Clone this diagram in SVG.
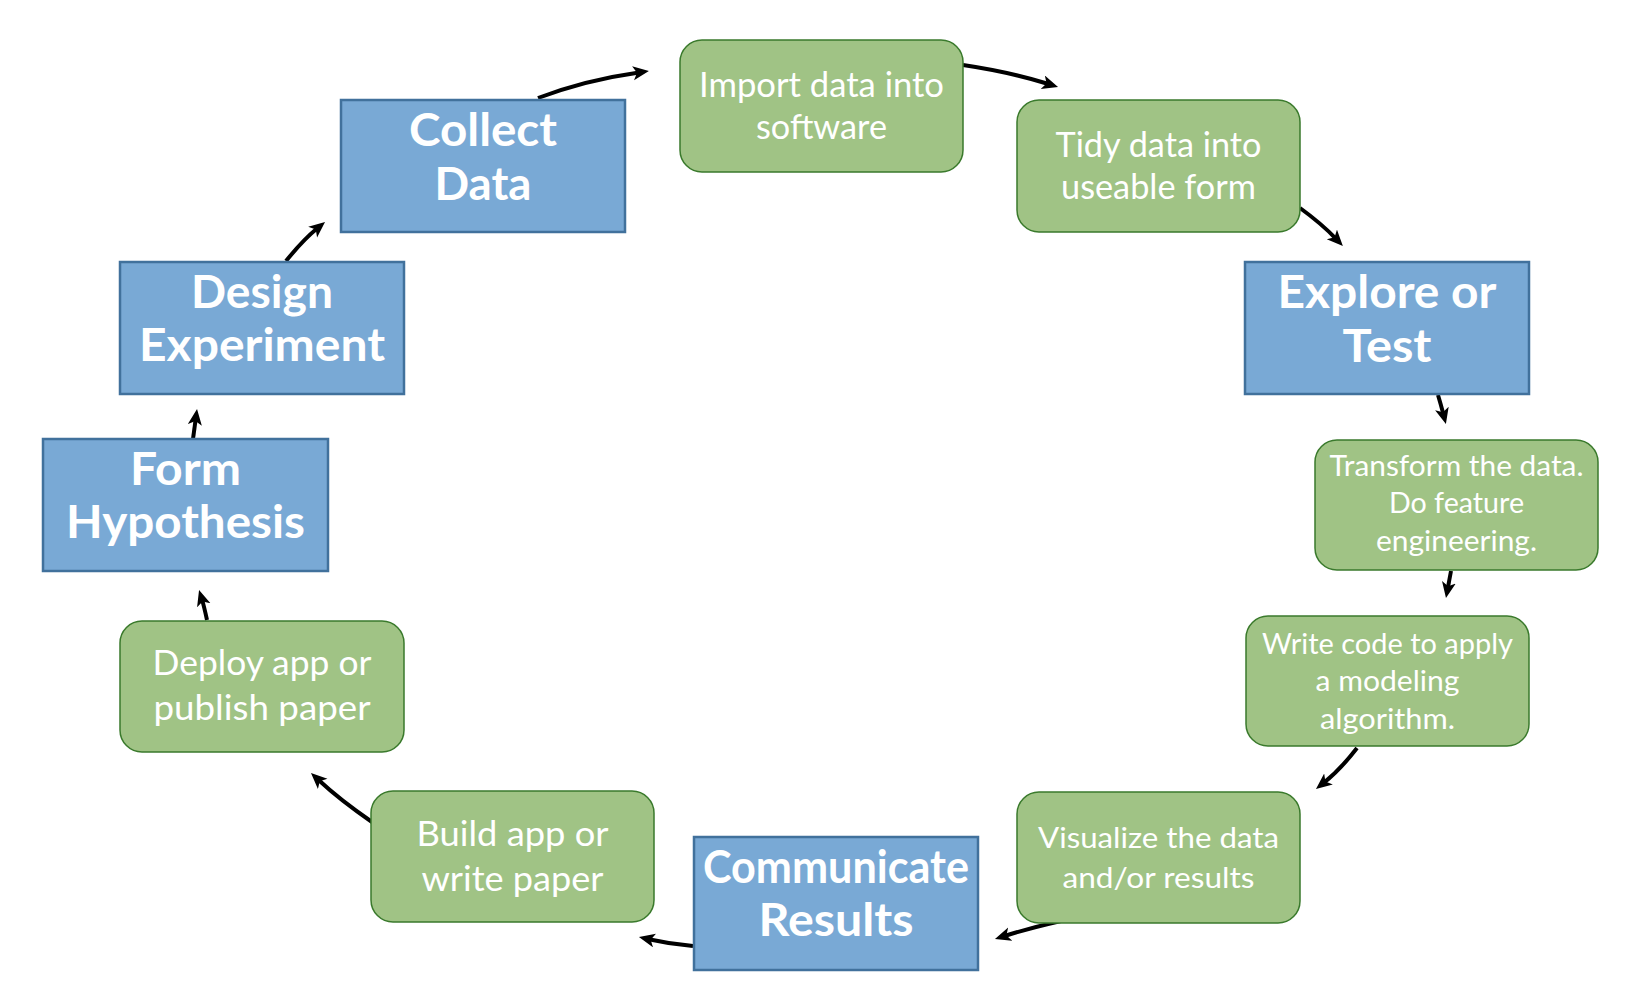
<svg xmlns="http://www.w3.org/2000/svg" width="1641" height="989" viewBox="0 0 1641 989">
<defs>
<style>
.blue{fill:#79A9D5;stroke:#41719C;stroke-width:2.5}
.green{fill:#A0C385;stroke:#3A7A2C;stroke-width:1.5}
.bt{font-family:Lato,"Liberation Sans",sans-serif;font-weight:bold;font-size:45px;fill:#fff;text-anchor:middle}
.gt{font-family:Lato,"Liberation Sans",sans-serif;font-size:34px;fill:#fff;text-anchor:middle}
.gs{font-family:Lato,"Liberation Sans",sans-serif;font-size:29px;fill:#fff;text-anchor:middle}
.arr{fill:none;stroke:#000;stroke-width:4;marker-end:url(#ah)}
</style>
<marker id="ah" markerUnits="userSpaceOnUse" markerWidth="18" markerHeight="16" refX="6" refY="7" orient="auto">
<path d="M0,0 L16,7 L0,14 L4,7 z" fill="#000"/>
</marker>
</defs>
<rect width="1641" height="989" fill="#fff"/>
<g id="connectors">
<path class="arr" d="M538,98 Q585,80 639,72.4"/>
<path class="arr" d="M963,65 Q1010,72 1048.5,84"/>
<path class="arr" d="M1300,208 Q1322,224 1336,238.8"/>
<path class="arr" d="M1438,395 Q1441,405 1443.4,414.3"/>
<path class="arr" d="M1451,571 L1447.8,588.2"/>
<path class="arr" d="M1357,748 Q1340,770 1323.8,782.8"/>
<path class="arr" d="M1061,921 Q1030,928 1004.5,936"/>
<path class="arr" d="M693,946 Q670,944 648.7,939.2"/>
<path class="arr" d="M372,822 Q340,800 318.3,779.8"/>
<path class="arr" d="M207,620 Q204,606 202,599.5"/>
<path class="arr" d="M193,439 L195.7,418.9"/>
<path class="arr" d="M286,261 Q303,240 317.3,228.3"/>
</g>
<g id="collect"><rect class="blue" x="341" y="100" width="284" height="132"/><text class="bt" x="483" y="146" textLength="148" lengthAdjust="spacingAndGlyphs">Collect</text><text class="bt" x="483" y="200" textLength="97" lengthAdjust="spacingAndGlyphs">Data</text></g>
<g id="design"><rect class="blue" x="120" y="262" width="284" height="132"/><text class="bt" x="262" y="308" textLength="142" lengthAdjust="spacingAndGlyphs">Design</text><text class="bt" x="262" y="361" textLength="246" lengthAdjust="spacingAndGlyphs">Experiment</text></g>
<g id="form"><rect class="blue" x="43" y="439" width="285" height="132"/><text class="bt" x="185.5" y="485" textLength="111" lengthAdjust="spacingAndGlyphs">Form</text><text class="bt" x="185.5" y="538" textLength="239" lengthAdjust="spacingAndGlyphs">Hypothesis</text></g>
<g id="explore"><rect class="blue" x="1245" y="262" width="284" height="132"/><text class="bt" x="1387" y="308" textLength="219" lengthAdjust="spacingAndGlyphs">Explore or</text><text class="bt" x="1387" y="362" textLength="89" lengthAdjust="spacingAndGlyphs">Test</text></g>
<g id="communicate"><rect class="blue" x="694" y="837" width="284" height="133"/><text class="bt" x="836" y="883" textLength="266" lengthAdjust="spacingAndGlyphs">Communicate</text><text class="bt" x="836" y="936" textLength="155" lengthAdjust="spacingAndGlyphs">Results</text></g>
<g id="import"><rect class="green" x="680" y="40" width="283" height="132" rx="22"/><text class="gt" x="821.5" y="97" textLength="245" lengthAdjust="spacingAndGlyphs">Import data into</text><text class="gt" x="821.5" y="139" textLength="131" lengthAdjust="spacingAndGlyphs">software</text></g>
<g id="tidy"><rect class="green" x="1017" y="100" width="283" height="132" rx="22"/><text class="gt" x="1158.5" y="157" textLength="206" lengthAdjust="spacingAndGlyphs">Tidy data into</text><text class="gt" x="1158.5" y="199" textLength="195" lengthAdjust="spacingAndGlyphs">useable form</text></g>
<g id="transform"><rect class="green" x="1315" y="440" width="283" height="130" rx="22"/><text class="gs" x="1456.5" y="476" textLength="254" lengthAdjust="spacingAndGlyphs">Transform the data.</text><text class="gs" x="1456.5" y="513" textLength="135" lengthAdjust="spacingAndGlyphs">Do feature</text><text class="gs" x="1456.5" y="551" textLength="161" lengthAdjust="spacingAndGlyphs">engineering.</text></g>
<g id="writecode"><rect class="green" x="1246" y="616" width="283" height="130" rx="22"/><text class="gs" x="1387.5" y="654" textLength="251" lengthAdjust="spacingAndGlyphs">Write code to apply</text><text class="gs" x="1387.5" y="691" textLength="144" lengthAdjust="spacingAndGlyphs">a modeling</text><text class="gs" x="1387.5" y="729" textLength="135" lengthAdjust="spacingAndGlyphs">algorithm.</text></g>
<g id="visualize"><rect class="green" x="1017" y="792" width="283" height="131" rx="22"/><text class="gs" x="1158.5" y="848" textLength="241" lengthAdjust="spacingAndGlyphs">Visualize the data</text><text class="gs" x="1158.5" y="888" textLength="192" lengthAdjust="spacingAndGlyphs">and/or results</text></g>
<g id="build"><rect class="green" x="371" y="791" width="283" height="131" rx="22"/><text class="gt" x="512.5" y="846" textLength="192" lengthAdjust="spacingAndGlyphs">Build app or</text><text class="gt" x="512.5" y="891" textLength="182" lengthAdjust="spacingAndGlyphs">write paper</text></g>
<g id="deploy"><rect class="green" x="120" y="621" width="284" height="131" rx="22"/><text class="gt" x="262" y="675" textLength="219" lengthAdjust="spacingAndGlyphs">Deploy app or</text><text class="gt" x="262" y="720" textLength="217" lengthAdjust="spacingAndGlyphs">publish paper</text></g>
</svg>
